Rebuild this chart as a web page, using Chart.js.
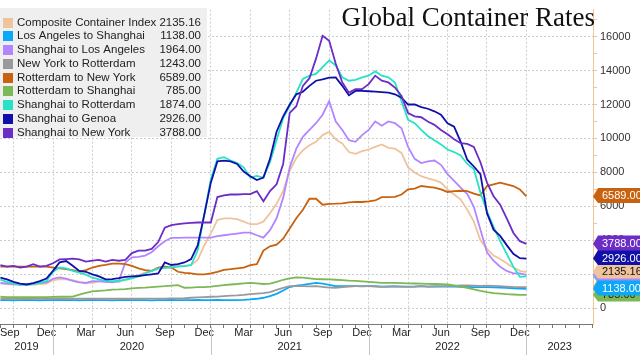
<!DOCTYPE html>
<html><head><meta charset="utf-8">
<script src="https://cdn.jsdelivr.net/npm/chart.js@4.4.0/dist/chart.umd.min.js"></script>
<style>html,body{margin:0;padding:0;background:#fff;}#wrap{width:640px;height:355px;position:relative;}</style>
</head><body><div id="wrap"><canvas id="c"></canvas></div>
<script>
// x values: months since 1 Jan 2020 (half-month steps), Sep 2019 .. Jan 2023
const months = [
-4,-3.5,-3,-2.5,-2,-1.5,-1,-0.5,
0,0.5,1,1.5,2,2.5,3,3.5,
4,4.5,5,5.5,6,6.5,7,7.5,
8,8.5,9,9.5,10,10.5,11,11.5,
12,12.5,13,13.5,14,14.5,15,15.5,
16,16.5,17,17.5,18,18.5,19,19.5,
20,20.5,21,21.5,22,22.5,23,23.5,
24,24.5,25,25.5,26,26.5,27,27.5,
28,28.5,29,29.5,30,30.5,31,31.5,
32,32.5,33,33.5,34,34.5,35,35.5,
36];

const seriesNames = ["Composite Container Index","Los Angeles to Shanghai","Shanghai to Los Angeles","New York to Rotterdam","Rotterdam to New York","Rotterdam to Shanghai","Shanghai to Rotterdam","Shanghai to Genoa","Shanghai to New York"];
const seriesColors = ["#efc39c","#0aa8f8","#b386ff","#9a9a9a","#c8620e","#7cb855","#26e2c6","#1010a8","#6b2dc6"];

const composite = [
1450,1420,1400,1380,1380,1400,1420,1450,
1650,1720,1700,1650,1550,1500,1500,1600,
1600,1600,1550,1700,1800,1950,2100,2200,
2300,2400,2450,2500,2500,2550,2850,3700,
4400,5200,5300,5300,5250,5100,4950,4950,
5100,5600,6150,6900,8100,8850,9300,9600,
9800,10200,10390,9950,9700,9200,9100,9250,
9350,9500,9650,9450,9400,9150,8300,8000,
7780,7650,7550,7400,7000,6700,6400,5800,
5100,4000,3500,3100,2900,2650,2400,2200,
2135.16];

const laToShanghai = [
480,480,470,480,490,480,470,480,
480,490,480,480,470,480,490,480,
480,470,480,490,480,480,480,470,
480,480,490,480,480,480,490,480,
480,490,480,480,480,490,520,560,
620,720,850,1050,1250,1330,1380,1440,
1490,1450,1380,1300,1300,1310,1300,1290,
1300,1300,1280,1290,1280,1270,1280,1280,
1300,1280,1290,1280,1270,1270,1260,1260,
1250,1250,1240,1230,1220,1200,1180,1160,
1138];

const shanghaiToLA = [
1490,1460,1430,1400,1420,1450,1480,1520,
1740,1820,1750,1620,1520,1490,1600,1580,
1550,1520,1600,2700,3000,3030,3100,3300,
3650,3950,4150,4150,4160,4160,4160,4160,
4160,4250,4300,4350,4400,4450,4450,4300,
4160,4600,5300,6500,8300,9400,10100,10500,
10900,11400,12200,11000,10500,9900,9800,10200,
10500,11000,10750,11000,10900,10600,9500,8800,
8550,8650,8700,8450,7900,7500,7100,6730,
5970,4630,3300,2800,2450,2200,2060,2050,
1964];

const nyToRotterdam = [
560,560,560,560,560,560,560,560,
560,560,560,560,560,560,560,560,
560,560,560,560,560,570,570,570,
570,570,580,580,590,620,640,660,
680,690,720,740,760,790,830,860,
890,950,1080,1200,1300,1300,1300,1290,
1300,1260,1220,1210,1250,1280,1300,1300,
1300,1280,1260,1270,1300,1280,1260,1270,
1300,1280,1290,1300,1300,1320,1340,1340,
1330,1320,1330,1320,1300,1280,1260,1250,
1243];

const rotterdamToNY = [
2450,2450,2450,2450,2450,2450,2450,2450,
2400,2350,2300,2250,2160,2250,2400,2500,
2550,2630,2630,2600,2500,2350,2250,2200,
2400,2450,2400,2150,2080,2050,2000,2000,
2050,2150,2260,2300,2350,2400,2540,2600,
3400,3650,3750,4100,4700,5300,5800,6450,
6450,6100,6150,6160,6180,6240,6260,6260,
6300,6350,6540,6540,6560,6700,7000,7050,
7200,7150,7100,7000,6850,6900,6920,6900,
6750,6650,7200,7300,7400,7300,7200,7000,
6589];

const rotterdamToShanghai = [
680,660,650,650,660,650,660,660,
670,680,680,690,800,900,1000,1030,
1050,1100,1110,1130,1170,1200,1220,1250,
1280,1300,1330,1360,1210,1220,1240,1250,
1280,1320,1360,1400,1430,1470,1490,1470,
1430,1450,1550,1680,1760,1820,1800,1760,
1720,1710,1700,1680,1660,1630,1610,1590,
1560,1530,1490,1490,1490,1480,1470,1460,
1450,1440,1430,1420,1400,1350,1280,1200,
1120,1020,950,890,860,830,810,795,
785];

const shanghaiToRotterdam = [
1690,1550,1450,1400,1380,1420,1500,1600,
2150,2400,2350,2200,2100,1980,1800,1700,
1620,1590,1620,1680,1760,1870,2050,2200,
2350,2380,2400,2450,2480,2540,3400,5500,
7600,8800,8900,8700,8550,8300,7700,7800,
7700,8600,9900,11200,11900,12700,13500,13700,
13800,14200,14600,14300,13600,13400,13450,13600,
13700,13950,13700,13600,13300,12200,11100,10900,
10500,10150,9900,9650,9350,9200,9000,8500,
8200,6800,5700,4800,3950,3200,2450,1850,
1874];

const shanghaiToGenoa = [
1800,1700,1550,1450,1400,1480,1600,1750,
2200,2700,2780,2500,2200,2150,2000,1880,
1700,1720,1780,1850,1880,1900,1950,2000,
2050,2700,2550,2600,2700,2900,3700,5500,
7400,8650,8700,8650,8500,8050,7780,7550,
7700,8800,10400,11300,12000,12600,12750,13100,
13400,13480,13580,13600,13100,12550,12800,12800,
12780,12760,12730,12700,12600,12400,12000,12000,
11850,11750,11600,11400,10900,10700,9800,8750,
8350,7900,5600,4630,4260,3720,3210,2950,
2926];

const shanghaiToNY = [
2540,2450,2500,2400,2450,2600,2450,2500,
2650,2880,2900,2920,2880,2750,2800,2850,
2750,2850,2800,2850,3250,3400,3400,3500,
3900,4750,4900,4950,5000,5030,5050,5050,
5050,6550,6650,6700,6700,6720,6720,6900,
6300,6900,7300,8500,11500,11900,13100,13550,
14700,16050,15750,14400,13300,12700,12900,12900,
13200,13700,13400,13300,13000,12500,11500,11300,
11250,11000,10800,10500,10250,9950,9720,9680,
9500,8600,7400,6600,6100,5300,4450,3950,
3788];

const allSeries = [composite, laToShanghai, shanghaiToLA, nyToRotterdam, rotterdamToNY, rotterdamToShanghai, shanghaiToRotterdam, shanghaiToGenoa, shanghaiToNY];

// axis definitions
const X_MIN = -4.03, X_MAX = 41.06;
const Y_MIN = -926, Y_MAX = 17589;
const yTickValues = [0,1000,2000,3000,4000,5000,6000,7000,8000,9000,10000,11000,12000,13000,14000,15000,16000,17000];
const xTickMonths = [-4,-3,-2,-1,0,1,2,3,4,5,6,7,8,9,10,11,12,13,14,15,16,17,18,19,20,21,22,23,24,25,26,27,28,29,30,31,32,33,34,35,36,37,38,39,40,41];
const monthLabelPos = [-3.5,-0.5,2.5,5.5,8.5,11.5,14.5,17.5,20.5,23.5,26.5,29.5,32.5,35.5];
const monthLabelText = ["Sep","Dec","Mar","Jun","Sep","Dec","Mar","Jun","Sep","Dec","Mar","Jun","Sep","Dec"];
const yearLabelText = ["2019","2020","2021","2022","2023"];
const yearStart = [-12,0,12,24,36];
const yearEnd = [0,12,24,36,48];
const tagOrder = [6,3,2,5,0,1,7,8,4];
const tagText = ["#111","#fff","#fff","#fff","#fff","#222","#fff","#fff","#fff"];

const FONT = '"Liberation Sans", Arial, sans-serif';

const decor = {
  id: 'decor',
  afterDraw(chart) {
    const ctx = chart.ctx, xs = chart.scales.x, ys = chart.scales.y, area = chart.chartArea;
    ctx.save();
    // month labels
    ctx.fillStyle = '#222';
    ctx.font = '11px ' + FONT;
    ctx.textBaseline = 'middle';
    ctx.textAlign = 'left';
    monthLabelPos.forEach((m, i) => {
      const w = ctx.measureText(monthLabelText[i]).width;
      let x = xs.getPixelForValue(m) - w / 2;
      if (x < 0) x = 0;
      ctx.fillText(monthLabelText[i], x, 333);
    });
    // year labels
    ctx.textAlign = 'center';
    yearLabelText.forEach((t, i) => {
      const a = Math.max(yearStart[i], X_MIN), b = Math.min(yearEnd[i], X_MAX);
      const x = (xs.getPixelForValue(a) + xs.getPixelForValue(b)) / 2;
      ctx.fillText(t, x, 347);
    });
    // year separators
    ctx.strokeStyle = '#c4c4c4';
    ctx.lineWidth = 1;
    yearStart.slice(1).forEach(m => {
      const x = Math.round(xs.getPixelForValue(m)) + 0.5;
      ctx.beginPath(); ctx.moveTo(x, area.bottom + 3); ctx.lineTo(x, 355); ctx.stroke();
    });
    // title
    ctx.fillStyle = '#111';
    ctx.font = '27px "Liberation Serif", "Times New Roman", serif';
    ctx.textAlign = 'right';
    ctx.textBaseline = 'alphabetic';
    ctx.fillText('Global Container Rates', 595, 26);
    // legend
    ctx.fillStyle = '#efefef';
    ctx.fillRect(0, 8, 207, 129);
    ctx.font = '11.5px ' + FONT;
    ctx.textBaseline = 'middle';
    seriesNames.forEach((n, i) => {
      const y = 22.5 + i * 13.75;
      ctx.fillStyle = seriesColors[i];
      ctx.fillRect(3, Math.round(y - 5), 10, 10);
      ctx.fillStyle = '#222';
      ctx.textAlign = 'left';
      ctx.fillText(n, 17, y);
      ctx.textAlign = 'right';
      const s = allSeries[i];
      ctx.fillText(s[s.length - 1].toFixed(2), 201, y);
    });
    // end-value tags on right axis
    ctx.font = '11px ' + FONT;
    ctx.textAlign = 'left';
    tagOrder.forEach(i => {
      const s = allSeries[i];
      const v = s[s.length - 1];
      const y = ys.getPixelForValue(v);
      const x0 = area.right;
      ctx.fillStyle = seriesColors[i];
      ctx.beginPath();
      ctx.moveTo(x0, y);
      ctx.lineTo(x0 + 5, y - 8.5);
      ctx.lineTo(640, y - 8.5);
      ctx.lineTo(640, y + 6.5);
      ctx.lineTo(x0 + 5, y + 6.5);
      ctx.closePath();
      ctx.fill();
      ctx.fillStyle = tagText[i];
      ctx.fillText(v.toFixed(2), x0 + 9, y);
    });
    ctx.restore();
  }
};

const datasets = allSeries.map((arr, i) => ({
  label: seriesNames[i],
  data: months.map((m, j) => ({x: m, y: arr[j]})),
  borderColor: seriesColors[i],
  backgroundColor: seriesColors[i],
  borderWidth: 1.8,
  pointRadius: 0,
  tension: 0,
  fill: false,
  order: 8 - i
}));

new Chart(document.getElementById('c'), {
  type: 'line',
  data: {datasets},
  options: {
    responsive: true,
    maintainAspectRatio: false,
    animation: false,
    devicePixelRatio: 1,
    layout: {padding: 0},
    plugins: {legend: {display: false}, tooltip: {enabled: false}, title: {display: false}},
    scales: {
      x: {
        type: 'linear', position: 'bottom', min: X_MIN, max: X_MAX,
        afterBuildTicks: ax => { ax.ticks = xTickMonths.map(v => ({value: v})); },
        afterFit: ax => { ax.height = 31; },
        ticks: {display: false, autoSkip: false},
        grid: {
          color: c => (c.tick && c.tick.value % 3 === 0 && c.tick.value >= -3 && c.tick.value <= 36) ? '#cbcbcb' : 'rgba(0,0,0,0)',
          lineWidth: 1, drawTicks: true, tickLength: 4, tickColor: '#777', tickWidth: 1
        },
        border: {display: true, color: '#777', width: 1, dash: [2, 2]}
      },
      y: {
        type: 'linear', position: 'right', min: Y_MIN, max: Y_MAX,
        afterBuildTicks: ax => { ax.ticks = yTickValues.map(v => ({value: v})); },
        afterFit: ax => { ax.width = 47; },
        ticks: {
          autoSkip: false, padding: 3, color: '#333',
          font: {family: FONT, size: 11},
          callback: v => (v % 2000 === 0 && v <= 16000) ? String(v) : ''
        },
        grid: {
          color: c => (c.tick && c.tick.value % 2000 === 0 && c.tick.value <= 16000) ? '#cbcbcb' : 'rgba(0,0,0,0)',
          lineWidth: 1, drawTicks: true, tickLength: 4, tickColor: '#f0c49c', tickWidth: 1
        },
        border: {display: true, color: '#f0c49c', width: 1, dash: [2, 2]}
      }
    }
  },
  plugins: [decor]
});
</script>
</body></html>
